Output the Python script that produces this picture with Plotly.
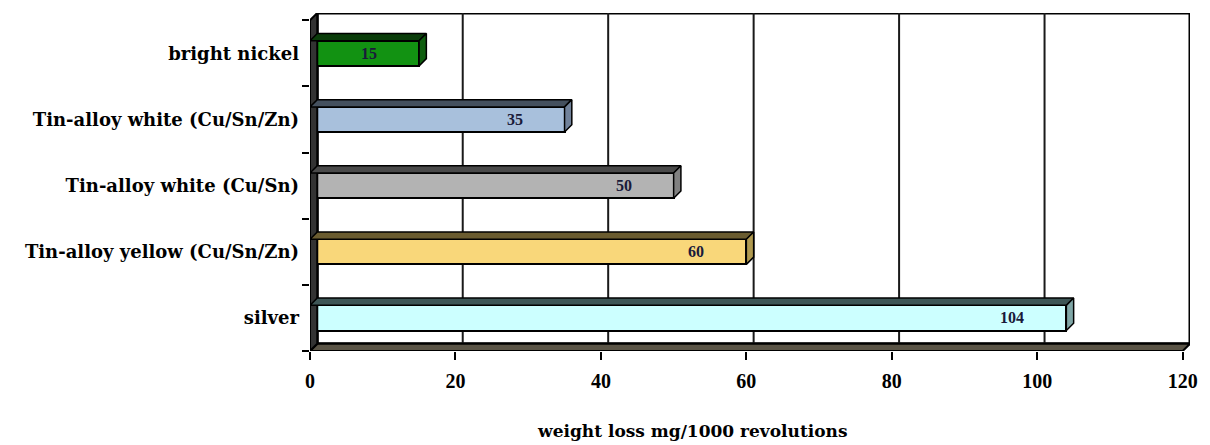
import plotly.graph_objects as go

# Abrasion test results (Taber-style), one bar per plating finish
finishes = [
    "silver",
    "Tin-alloy yellow (Cu/Sn/Zn)",
    "Tin-alloy white (Cu/Sn)",
    "Tin-alloy white (Cu/Sn/Zn)",
    "bright nickel",
]
weight_loss = [104, 60, 50, 35, 15]
bar_colors = ["#ccffff", "#f9d77a", "#b3b3b3", "#a8c0dc", "#129212"]
top_colors = ["#3e5656", "#6a5c30", "#4a4a4a", "#44505e", "#0b3d0b"]
side_colors = ["#7fa6a6", "#b09a50", "#808080", "#71829a", "#0f5e0f"]
x_ticks = [0, 20, 40, 60, 80, 100, 120]
x_max = 120

# pseudo-3D depth of the chart box
DX = 1.0      # depth along x, in data units
DY = 0.11     # depth along y, in category units
HALF = 0.19   # half bar thickness

FONT = "DejaVu Serif"
NUM_FONT = "Liberation Serif"
ypos = list(range(len(finishes)))

fig = go.Figure()

# back wall
fig.add_shape(type="rect", x0=DX, x1=x_max + DX, y0=-0.5 + DY, y1=len(finishes) - 0.5 + DY,
              xref="x", yref="y", line=dict(color="#000000", width=3), fillcolor="white", layer="below")
# gridlines on the back wall
for t in x_ticks[1:-1]:
    fig.add_shape(type="line", x0=t + DX, x1=t + DX, y0=-0.5 + DY, y1=len(finishes) - 0.5 + DY,
                  xref="x", yref="y", line=dict(color="#1a1a1a", width=2), layer="below")

# floor
fig.add_trace(go.Scatter(
    x=[0, x_max, x_max + DX, DX, 0], y=[-0.5, -0.5, -0.5 + DY, -0.5 + DY, -0.5],
    fill="toself", fillcolor="#5a5446", mode="lines", line=dict(color="#000000", width=2),
    hoverinfo="skip", showlegend=False))
# left wall
fig.add_trace(go.Scatter(
    x=[0, DX, DX, 0, 0], y=[-0.5, -0.5 + DY, len(finishes) - 0.5 + DY, len(finishes) - 0.5, -0.5],
    fill="toself", fillcolor="#333333", mode="lines", line=dict(color="#000000", width=2),
    hoverinfo="skip", showlegend=False))

# front faces of the bars
fig.add_trace(go.Bar(
    x=weight_loss, y=ypos, orientation="h", width=2 * HALF,
    marker=dict(color=bar_colors, line=dict(color="#000000", width=2)),
    hoverinfo="x+y", showlegend=False))

# top and end faces of each bar
for yi, v, tc, sc in zip(ypos, weight_loss, top_colors, side_colors):
    fig.add_trace(go.Scatter(
        x=[0, v, v + DX, DX, 0],
        y=[yi + HALF, yi + HALF, yi + HALF + DY, yi + HALF + DY, yi + HALF],
        fill="toself", fillcolor=tc, mode="lines", line=dict(color="#000000", width=1.5),
        hoverinfo="skip", showlegend=False))
    fig.add_trace(go.Scatter(
        x=[v, v + DX, v + DX, v, v],
        y=[yi - HALF, yi - HALF + DY, yi + HALF + DY, yi + HALF, yi - HALF],
        fill="toself", fillcolor=sc, mode="lines", line=dict(color="#000000", width=1.5),
        hoverinfo="skip", showlegend=False))

# value labels just inside the end of each bar
value_labels = [dict(
    text=str(v), x=v, y=yi, xref="x", yref="y", xanchor="right", yanchor="middle",
    xshift=-40, showarrow=False,
    font=dict(family=NUM_FONT, size=16, color="#1a1a3a", weight="bold"),
) for yi, v in zip(ypos, weight_loss)]

fig.update_layout(
    width=1210, height=445,
    margin=dict(l=310, r=20, t=13, b=94),
    paper_bgcolor="white", plot_bgcolor="white",
    bargap=0,
    xaxis=dict(
        range=[0, x_max + DX], tickvals=x_ticks, ticktext=[str(t) for t in x_ticks],
        showgrid=False, zeroline=False, showline=False,
        ticks="outside", ticklen=8, tickwidth=2, tickcolor="#000000",
        tickfont=dict(family=NUM_FONT, size=20, color="#000000", weight="bold"),
        ticklabelstandoff=4,
        fixedrange=True,
    ),
    yaxis=dict(
        range=[-0.5, len(finishes) - 0.5 + DY], tickvals=ypos, ticktext=finishes,
        showgrid=False, zeroline=False, showline=False, ticks="",
        tickfont=dict(family=FONT, size=18, color="#000000", weight="bold"),
        ticklabelstandoff=10,
        minor=dict(tickvals=[i - 0.5 for i in range(len(finishes) + 1)], ticks="outside",
                   ticklen=7, tickwidth=2, tickcolor="#000000"),
        fixedrange=True,
    ),
    annotations=value_labels + [dict(
        text="weight loss mg/1000 revolutions", xref="paper", yref="paper",
        x=0.435, y=-0.237, xanchor="center", yanchor="middle", showarrow=False,
        font=dict(family=FONT, size=17, color="#000000", weight="bold"),
    )],
)

fig.write_html("out.html")
